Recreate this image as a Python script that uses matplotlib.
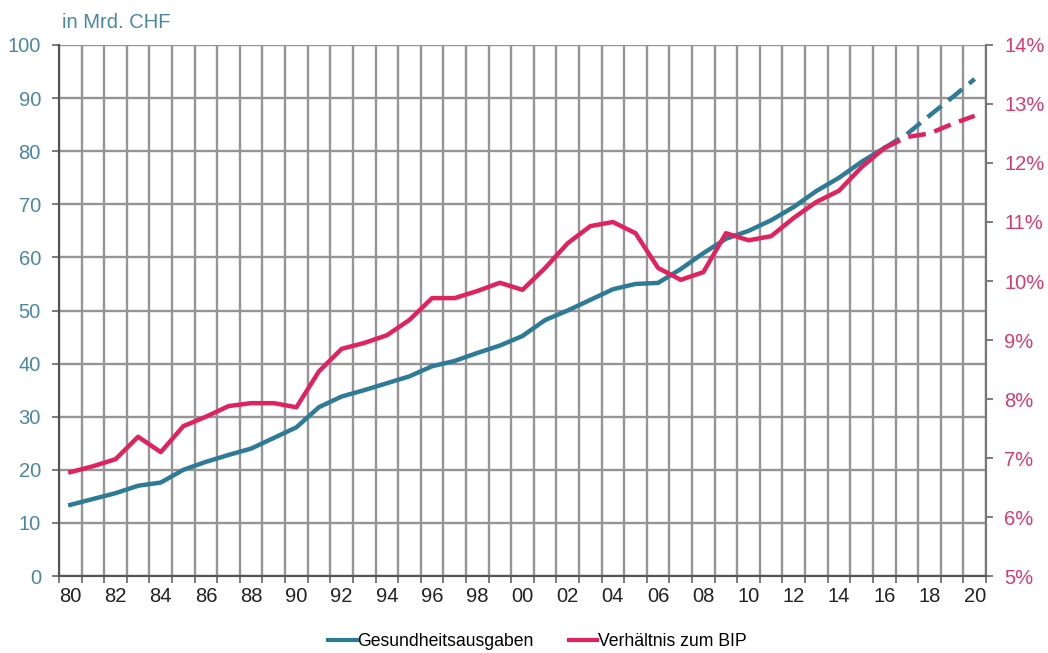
import numpy as np
import matplotlib.pyplot as plt
from matplotlib.lines import Line2D

plt.rcParams['font.family'] = ['Liberation Sans', 'DejaVu Sans']

# Daten
years = np.arange(1980, 2021)
ausgaben = [13.4, 14.5, 15.6, 17.0, 17.6, 20.0, 21.5, 22.8, 24.0, 26.0,
            28.0, 31.8, 33.8, 35.0, 36.3, 37.6, 39.5, 40.5, 42.0, 43.4,
            45.2, 48.2, 50.0, 52.0, 54.0, 55.0, 55.2, 57.8, 60.8, 63.5,
            65.0, 67.0, 69.5, 72.5, 75.0, 78.0, 80.6, 83.2, 86.7, 90.1, 93.6]
anteil_bip = [6.76, 6.86, 6.98, 7.36, 7.10, 7.54, 7.70, 7.88, 7.93, 7.93,
              7.86, 8.47, 8.85, 8.95, 9.08, 9.34, 9.71, 9.71, 9.83, 9.97,
              9.85, 10.22, 10.64, 10.93, 11.00, 10.81, 10.22, 10.02, 10.15, 10.81,
              10.69, 10.76, 11.07, 11.34, 11.53, 11.93, 12.25, 12.44, 12.50, 12.66, 12.80]
last_actual = 2016

blau = '#2E7B97'
rot = '#E0235F'
blau_txt = '#4A87A3'
rot_txt = '#D93A6E'
grau = '#959595'

fig = plt.figure(figsize=(10.48, 6.53), dpi=100)
ax = fig.add_axes([0.0563, 0.1179, 0.8845, 0.8132])
ax2 = ax.twinx()

cut = list(years).index(last_actual) + 1
ax.plot(years[:cut], ausgaben[:cut], color=blau, lw=3.2, zorder=3)
ax.plot(years[cut - 1:], ausgaben[cut - 1:], color=blau, lw=3.2, ls=(0, (4, 2)), zorder=3)
ax2.plot(years[:cut], anteil_bip[:cut], color=rot, lw=3.2, zorder=3)
ax2.plot(years[cut - 1:], anteil_bip[cut - 1:], color=rot, lw=3.2, ls=(0, (4, 2)), zorder=3)

ax.set_xlim(1979.5, 2020.5)
ax.set_ylim(0, 100)
ax2.set_ylim(5, 14)

# x-Achse: Kategorien, Gitter zwischen den Jahren
ax.set_xticks(years[::2])
ax.set_xticklabels(['%02d' % (y % 100) for y in years[::2]], fontsize=14.5, color='#222222')
ax.set_xticks(np.arange(1979.5, 2021, 1), minor=True)
ax.tick_params(axis='x', which='major', length=0, pad=8)
ax.tick_params(axis='x', which='minor', length=5, color='#666666', width=1.2)
ax.grid(True, which='minor', axis='x', color=grau, lw=1.7)

ax.set_yticks(np.arange(0, 101, 10))
ax.tick_params(axis='y', labelsize=14.5, labelcolor=blau_txt, length=5, color='#666666', width=1.2, pad=8)
ax.grid(True, which='major', axis='y', color=grau, lw=1.7)
ax.set_axisbelow(True)

ax2.set_yticks(np.arange(5, 15, 1))
ax2.set_yticklabels(['%d%%' % v for v in range(5, 15)])
ax2.tick_params(axis='y', labelsize=14.5, labelcolor=rot_txt, length=5, color='#666666', width=1.2, pad=8)

for a in (ax, ax2):
    a.spines['top'].set_visible(False)
    a.spines['left'].set_color('#555555')
    a.spines['bottom'].set_color('#555555')
    a.spines['right'].set_color('#777777')
    for s in ('left', 'bottom', 'right'):
        a.spines[s].set_linewidth(1.5)

fig.text(0.059, 0.965, 'in Mrd. CHF', fontsize=14.5, color=blau_txt, va='center')

handles = [Line2D([], [], color=blau, lw=3), Line2D([], [], color=rot, lw=3)]
fig.legend(handles, ['Gesundheitsausgaben', 'Verhältnis zum BIP'],
           loc='center', bbox_to_anchor=(0.513, 0.018), ncol=2, frameon=False,
           fontsize=12.7, handlelength=1.6, handletextpad=0.05, columnspacing=2.0)

fig.savefig('out.png', dpi=100)
